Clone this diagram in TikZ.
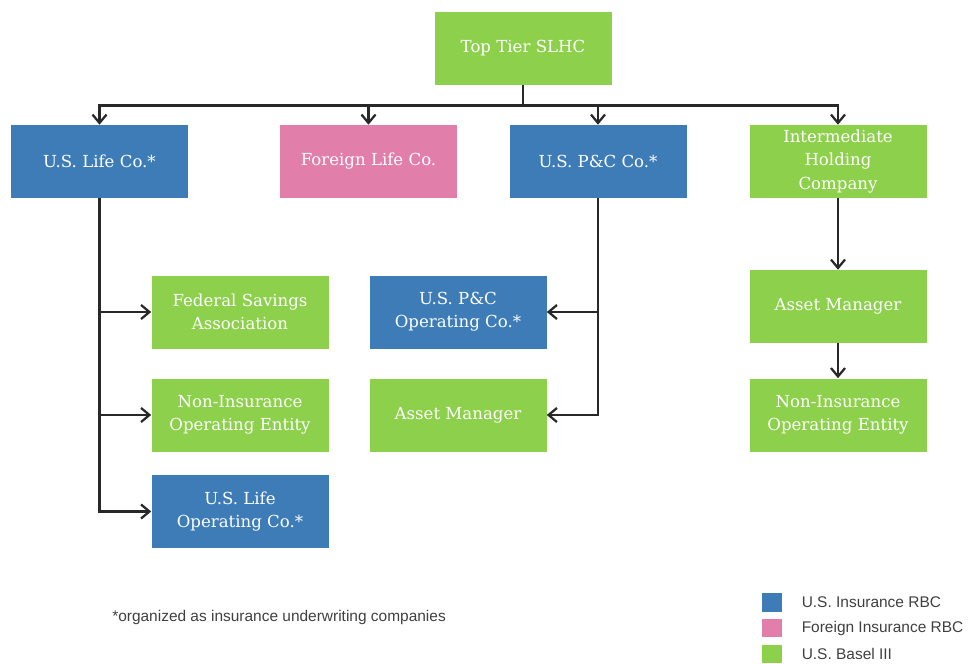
\documentclass[tikz,border=0pt]{standalone}
\usepackage{fontspec}
\setmainfont{DejaVu Serif}
\newfontfamily\legendfont{Liberation Sans}
\usetikzlibrary{positioning,arrows.meta}
\definecolor{rbcblue}{RGB}{62,124,184}
\definecolor{rbcpink}{RGB}{226,126,170}
\definecolor{baselgreen}{RGB}{140,208,76}
\definecolor{linegray}{RGB}{40,40,40}
\tikzstyle{block} = [rectangle, fill=baselgreen, text=white, align=center, minimum width=4.425cm, minimum height=1.825cm, inner sep=2pt, font=\fontsize{11.8}{16.4}\selectfont]
\tikzstyle{line} = [draw=linegray, line width=1.7pt, -{Straight Barb[length=6pt,width=10pt,line width=1.6pt]}]
\tikzstyle{bar} = [draw=linegray, line width=1.7pt]
\tikzstyle{legbox} = [rectangle, minimum width=0.5cm, minimum height=0.46cm, inner sep=0pt]
\tikzstyle{legtext} = [anchor=west, inner sep=0pt, text=black!75, font=\legendfont\fontsize{11}{13}\selectfont]

\begin{document}
\begin{tikzpicture}
	\useasboundingbox (0,0) rectangle (24.25,-16.6);
	\node[block] (top) at (13.075,-1.2125) {Top Tier SLHC};
	\node[block, fill=rbcblue] (life) at (2.4875,-4.0375) {U.S. Life Co.*};
	\node[block, fill=rbcpink] (foreign) at (9.2125,-4.0375) {Foreign Life Co.};
	\node[block, fill=rbcblue] (pc) at (14.95,-4.0375) {U.S. P\&C Co.*};
	\node[block] (ihc) at (20.95,-4.0375) {Intermediate\\Holding\\Company};
	
	\node[block] (fsa) at (6,-7.8) {Federal Savings\\Association};
	\node[block] (nie) at (6,-10.375) {Non-Insurance\\Operating Entity};
	\node[block, fill=rbcblue] (lifeop) at (6,-12.7875) {U.S. Life\\Operating Co.*};
	\node[block, fill=rbcblue] (pcop) at (11.45,-7.8) {U.S. P\&C\\Operating Co.*};
	\node[block] (am) at (11.45,-10.375) {Asset Manager};
	\node[block] (ihcam) at (20.95,-7.6625) {Asset Manager};
	\node[block] (ihcnie) at (20.95,-10.375) {Non-Insurance\\Operating Entity};
	
	\coordinate (bus) at (13.075,-2.64);
	\path[bar] (top) -- (bus);
	\foreach \n in {life,foreign,pc,ihc}
		\path[line] (bus) -| (\n);
	\foreach \n in {fsa,nie,lifeop}
		\path[line] (life) |- (\n);
	\foreach \n in {pcop,am}
		\path[line] (pc) |- (\n);
	\path[line] (ihc) -- (ihcam);
	\path[line] (ihcam) -- (ihcnie);
	
	% footnote and legend
	\node[legtext] (note) at (2.8,-15.425) {*organized as insurance underwriting companies};
	\node[legbox, fill=rbcblue] (k1) at (19.3,-15.06) {};
	\node[legbox, fill=rbcpink, below=0.17cm of k1] (k2) {};
	\node[legbox, fill=baselgreen, below=0.17cm of k2] (k3) {};
	\node[legtext, right=0.48cm of k1] (t1) {U.S. Insurance RBC};
	\node[legtext, right=0.48cm of k2] (t2) {Foreign Insurance RBC};
	\node[legtext, right=0.48cm of k3] (t3) {U.S. Basel III};
\end{tikzpicture}
\end{document}
